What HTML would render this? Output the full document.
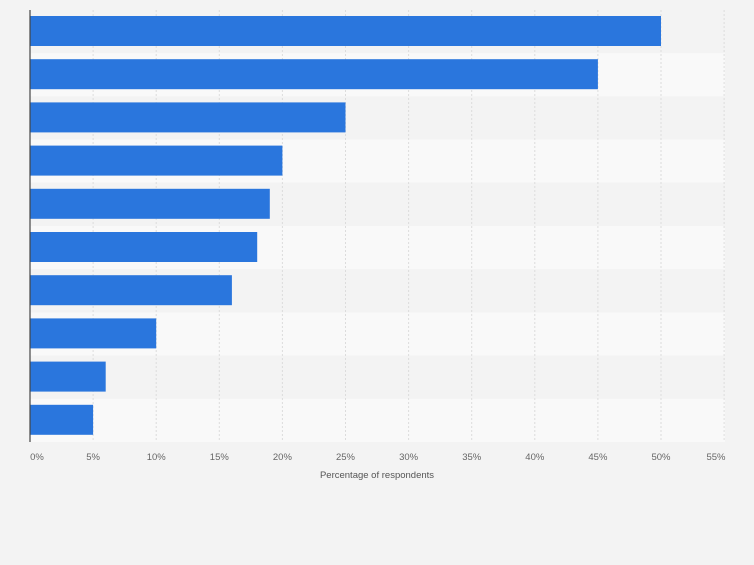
<!DOCTYPE html><html><head><style>body{margin:0;background:#f3f3f3}</style></head><body>
<svg width="754" height="560" xmlns="http://www.w3.org/2000/svg" font-family="Liberation Sans, sans-serif">
<rect width="754" height="560" fill="#f3f3f3"/>
<rect x="30" y="10" width="695" height="43.2" fill="#f3f3f3"/>
<rect x="30" y="53.2" width="695" height="43.2" fill="#f9f9f9"/>
<rect x="30" y="96.4" width="695" height="43.2" fill="#f3f3f3"/>
<rect x="30" y="139.6" width="695" height="43.2" fill="#f9f9f9"/>
<rect x="30" y="182.8" width="695" height="43.2" fill="#f3f3f3"/>
<rect x="30" y="226" width="695" height="43.2" fill="#f9f9f9"/>
<rect x="30" y="269.2" width="695" height="43.2" fill="#f3f3f3"/>
<rect x="30" y="312.4" width="695" height="43.2" fill="#f9f9f9"/>
<rect x="30" y="355.6" width="695" height="43.2" fill="#f3f3f3"/>
<rect x="30" y="398.8" width="695" height="43.2" fill="#f9f9f9"/>
<g stroke="#dcdcdc" stroke-dasharray="2,2">
<line x1="93.1" y1="10" x2="93.1" y2="442"/>
<line x1="156.2" y1="10" x2="156.2" y2="442"/>
<line x1="219.3" y1="10" x2="219.3" y2="442"/>
<line x1="282.4" y1="10" x2="282.4" y2="442"/>
<line x1="345.5" y1="10" x2="345.5" y2="442"/>
<line x1="408.6" y1="10" x2="408.6" y2="442"/>
<line x1="471.7" y1="10" x2="471.7" y2="442"/>
<line x1="534.8" y1="10" x2="534.8" y2="442"/>
<line x1="597.9" y1="10" x2="597.9" y2="442"/>
<line x1="661" y1="10" x2="661" y2="442"/>
<line x1="724.1" y1="10" x2="724.1" y2="442"/>
</g>
<g fill="#2a76dd">
<rect x="30" y="16" width="631" height="30"/>
<rect x="30" y="59.2" width="567.9" height="30"/>
<rect x="30" y="102.4" width="315.5" height="30"/>
<rect x="30" y="145.6" width="252.4" height="30"/>
<rect x="30" y="188.8" width="239.8" height="30"/>
<rect x="30" y="232" width="227.2" height="30"/>
<rect x="30" y="275.2" width="201.9" height="30"/>
<rect x="30" y="318.4" width="126.2" height="30"/>
<rect x="30" y="361.6" width="75.7" height="30"/>
<rect x="30" y="404.8" width="63.1" height="30"/>
</g>
<line x1="30" y1="10" x2="30" y2="442" stroke="#444" stroke-width="1.2"/>
<g font-size="9.5" fill="#666" text-anchor="middle">
<text x="37" y="460">0%</text>
<text x="93.1" y="460">5%</text>
<text x="156.2" y="460">10%</text>
<text x="219.3" y="460">15%</text>
<text x="282.4" y="460">20%</text>
<text x="345.5" y="460">25%</text>
<text x="408.6" y="460">30%</text>
<text x="471.7" y="460">35%</text>
<text x="534.8" y="460">40%</text>
<text x="597.9" y="460">45%</text>
<text x="661" y="460">50%</text>
<text x="716" y="460">55%</text>
</g>
<text x="377" y="478" font-size="9.5" fill="#555" text-anchor="middle">Percentage of respondents</text>
</svg></body></html>
